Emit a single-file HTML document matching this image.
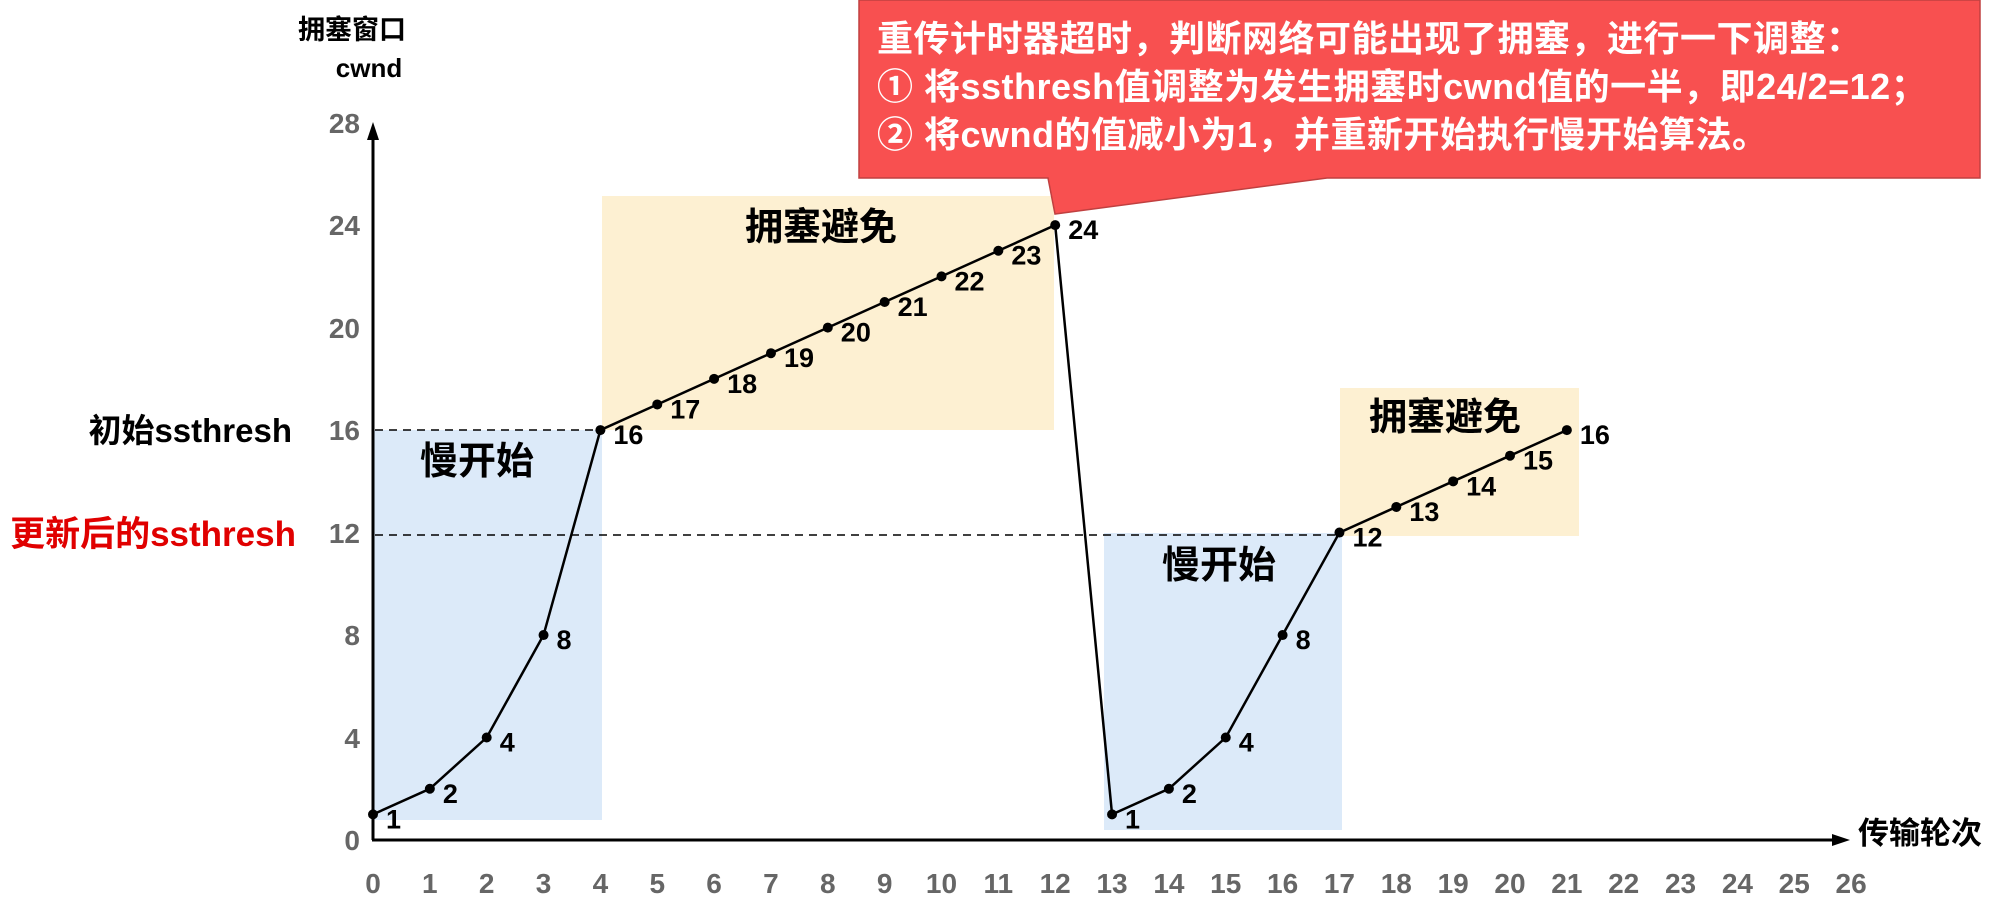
<!DOCTYPE html>
<html><head><meta charset="utf-8"><style>
html,body{margin:0;padding:0;background:#fff;}
svg{display:block;}
text{font-family:"Liberation Sans","Noto Sans CJK SC",sans-serif;font-weight:bold;}
</style></head><body>
<svg width="1996" height="906" viewBox="0 0 1996 906" xmlns="http://www.w3.org/2000/svg">
<rect x="373" y="430" width="229" height="390" fill="#dceaf9"/>
<rect x="602" y="196" width="452" height="234" fill="#fdf0d2"/>
<rect x="1104" y="533" width="238" height="297" fill="#dceaf9"/>
<rect x="1340" y="388" width="239" height="148" fill="#fdf0d2"/>
<line x1="375" y1="430" x2="600" y2="430" stroke="#000" stroke-width="1.5" stroke-dasharray="8,6"/>
<line x1="375" y1="535" x2="1339" y2="535" stroke="#000" stroke-width="1.5" stroke-dasharray="8,6"/>
<line x1="373" y1="840" x2="373" y2="135" stroke="#000" stroke-width="3"/>
<polygon points="373,122 367,140 379,140" fill="#000"/>
<line x1="372" y1="840" x2="1835" y2="840" stroke="#000" stroke-width="3"/>
<polygon points="1850,840 1832,834 1832,846" fill="#000"/>
<g fill="#666" font-size="28" text-anchor="end">
<text x="360" y="850">0</text><text x="360" y="748">4</text><text x="360" y="645">8</text>
<text x="360" y="543">12</text><text x="360" y="440">16</text><text x="360" y="338">20</text>
<text x="360" y="235">24</text><text x="360" y="133">28</text>
</g>
<g fill="#666" font-size="28" text-anchor="middle" id="xt"></g>
<text x="352" y="39" font-size="27" text-anchor="middle" fill="#000">拥塞窗口</text>
<text x="369" y="77" font-size="26" text-anchor="middle" fill="#000">cwnd</text>
<text x="1858" y="844" font-size="31" fill="#000">传输轮次</text>
<text x="292" y="442" font-size="33" text-anchor="end" fill="#000">初始ssthresh</text>
<text x="296" y="546" font-size="35" text-anchor="end" fill="#e00000">更新后的ssthresh</text>
<text x="420" y="474" font-size="38" fill="#000">慢开始</text>
<text x="745" y="240" font-size="38" fill="#000">拥塞避免</text>
<text x="1162" y="578" font-size="38" fill="#000">慢开始</text>
<text x="1369" y="430" font-size="38" fill="#000">拥塞避免</text>
<path d="M859,0 L1980,0 L1980,178 L1327,178 L1055,214 L1048,178 L859,178 Z" fill="#f85050" stroke="#c04040" stroke-width="1.5"/>
<g fill="#fff" font-size="36" letter-spacing="0.5">
<text x="877" y="51">重传计时器超时，判断网络可能出现了拥塞，进行一下调整：</text>
<text x="877" y="99">① 将ssthresh值调整为发生拥塞时cwnd值的一半，即24/2=12；</text>
<text x="877" y="147">② 将cwnd的值减小为1，并重新开始执行慢开始算法。</text>
</g>
<g id="data"></g>
<script>
var ns="http://www.w3.org/2000/svg";
function X(i){return 373+i*56.85;} function Y(v){return 840-v*25.62;}
var xt=document.getElementById('xt');
for(var i=0;i<=26;i++){var t=document.createElementNS(ns,'text');t.setAttribute('x',X(i));t.setAttribute('y',893);t.textContent=i;xt.appendChild(t);}
var vals=[1,2,4,8,16,17,18,19,20,21,22,23,24,1,2,4,8,12,13,14,15,16];
var g=document.getElementById('data');
var pts=vals.map(function(v,i){return X(i)+','+Y(v);}).join(' ');
var pl=document.createElementNS(ns,'polyline');pl.setAttribute('points',pts);pl.setAttribute('fill','none');pl.setAttribute('stroke','#000');pl.setAttribute('stroke-width','2.5');g.appendChild(pl);
vals.forEach(function(v,i){
 var c=document.createElementNS(ns,'circle');c.setAttribute('cx',X(i));c.setAttribute('cy',Y(v));c.setAttribute('r',5);c.setAttribute('fill','#000');g.appendChild(c);
 var t=document.createElementNS(ns,'text');t.setAttribute('x',X(i)+13);t.setAttribute('y',Y(v)+14);t.setAttribute('font-size','27');t.setAttribute('fill','#000');t.textContent=v;g.appendChild(t);
});
</script>
</svg>
</body></html>
